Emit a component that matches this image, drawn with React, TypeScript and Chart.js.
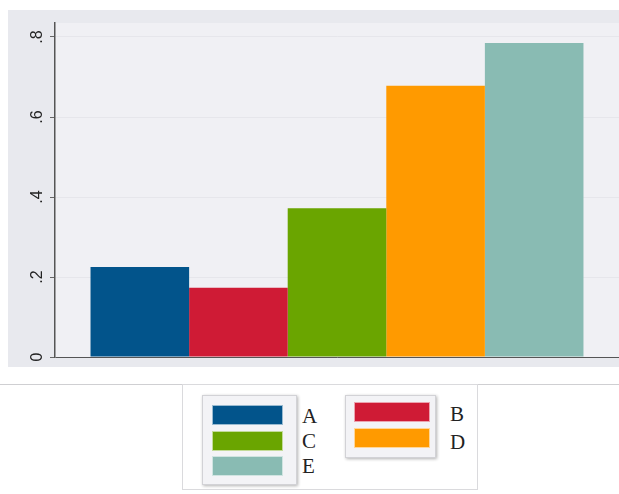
import React, { useEffect, useRef } from "react";
import { Chart, registerables } from "chart.js";

Chart.register(...registerables);

// ---- data ----
const categories = [""];
const seriesNames = ["A", "B", "C", "D", "E"];
const seriesValues = [0.225, 0.173, 0.372, 0.678, 0.785];
const yTickValues = [0, 0.2, 0.4, 0.6, 0.8];
const yTickLabels = ["0", ".2", ".4", ".6", ".8"];
const yMax = 0.835;

// ---- styles ----
const COLORS = ["#02548b", "#cf1b35", "#6aa500", "#ff9a00", "#89bbb3"];
const OUTER_BG = "#e8e9ee";
const PLOT_BG = "#f0f0f4";

const bgPlugin = {
  id: "bgPlugin",
  beforeDraw(chart: any) {
    const { ctx, chartArea, width, height } = chart;
    ctx.save();
    ctx.fillStyle = OUTER_BG;
    ctx.fillRect(0, 0, width, height);
    ctx.fillStyle = PLOT_BG;
    ctx.fillRect(chartArea.left, chartArea.top, chartArea.right - chartArea.left, chartArea.bottom - chartArea.top);
    ctx.restore();
  },
};

const yLabelPlugin = {
  id: "yLabelPlugin",
  afterDraw(chart: any) {
    const { ctx } = chart;
    const y = chart.scales.y;
    ctx.save();
    ctx.font = '16px "Liberation Sans", Arial, sans-serif';
    ctx.fillStyle = "#222";
    ctx.textAlign = "center";
    ctx.textBaseline = "middle";
    yTickValues.forEach((v, i) => {
      const py = y.getPixelForValue(v);
      ctx.save();
      ctx.translate(y.right - 17, py);
      ctx.rotate(-Math.PI / 2);
      ctx.fillText(yTickLabels[i], 0, 0);
      ctx.restore();
    });
    ctx.restore();
  },
};

function BarChart() {
  const ref = useRef<HTMLCanvasElement>(null);
  useEffect(() => {
    if (!ref.current) return;
    const chart = new Chart(ref.current, {
      type: "bar",
      data: {
        labels: categories,
        datasets: seriesNames.map((name, i) => ({
          label: name,
          data: [seriesValues[i]],
          backgroundColor: COLORS[i],
          borderWidth: 0,
          categoryPercentage: 0.874,
          barPercentage: 1,
        })),
      },
      options: {
        animation: false,
        responsive: false,
        layout: { padding: { top: 13, right: 0, bottom: 10, left: 0 } },
        plugins: { legend: { display: false }, tooltip: { enabled: false } },
        scales: {
          x: { type: "category", display: false },
          y: {
            type: "linear",
            min: 0,
            max: yMax,
            afterBuildTicks: (scale: any) => {
              scale.ticks = yTickValues.map((v) => ({ value: v }));
            },
            afterFit: (scale: any) => {
              scale.width = 47;
            },
            ticks: { display: false, includeBounds: false },
            grid: {
              color: (c: any) => (c.tick && c.tick.value === 0 ? "#555" : "#e6e6eb"),
              tickColor: "#666",
              tickLength: 5,
              drawTicks: true,
              lineWidth: 1,
            },
            border: { display: true, color: "#555", width: 1.5 },
          },
        },
      },
      plugins: [bgPlugin, yLabelPlugin],
    });
    return () => chart.destroy();
  }, []);
  return <canvas ref={ref} width={611} height={357} style={{ position: "absolute", left: 8, top: 10 }} />;
}

const swatchStyle = (color: string, w: number): React.CSSProperties => ({
  width: w,
  height: 20,
  background: color,
  border: "1px solid rgba(255,255,255,0.6)",
  boxSizing: "border-box",
});

function Legend() {
  const leftIdx = [0, 2, 4];
  const rightIdx = [1, 3];
  const keyBox: React.CSSProperties = {
    position: "absolute",
    background: "#f3f3f6",
    border: "1px solid #d2d2d6",
    boxShadow: "1px 1px 3px rgba(0,0,0,0.3)",
    boxSizing: "border-box",
    display: "flex",
    flexDirection: "column",
    justifyContent: "space-between",
  };
  const labelStyle: React.CSSProperties = {
    position: "absolute",
    font: '21px "Liberation Serif", "DejaVu Serif", serif',
    color: "#222",
    lineHeight: "22px",
  };
  return (
    <>
      <div style={{ position: "absolute", left: 0, top: 384, width: 619, height: 1, background: "#cfcfd2" }} />
      <div
        style={{
          position: "absolute",
          left: 182,
          top: 384,
          width: 296,
          height: 106,
          background: "#fff",
          border: "1px solid #dadadd",
          boxSizing: "border-box",
        }}
      />
      <div style={{ ...keyBox, left: 202, top: 395, width: 95, height: 90, padding: "9px 0 8px 9px" }}>
        {leftIdx.map((i) => (
          <div key={i} style={swatchStyle(COLORS[i], 71)} />
        ))}
      </div>
      <div style={{ ...keyBox, left: 345, top: 395, width: 91, height: 63, padding: "6px 0 9px 8px" }}>
        {rightIdx.map((i) => (
          <div key={i} style={swatchStyle(COLORS[i], 76)} />
        ))}
      </div>
      {leftIdx.map((i, k) => (
        <div key={"l" + i} style={{ ...labelStyle, left: 302, top: 405 + k * 25 }}>
          {seriesNames[i]}
        </div>
      ))}
      {rightIdx.map((i, k) => (
        <div key={"r" + i} style={{ ...labelStyle, left: 450, top: 403 + k * 28 }}>
          {seriesNames[i]}
        </div>
      ))}
    </>
  );
}

export default function App() {
  return (
    <div style={{ position: "absolute", left: 0, top: 0, width: 619, height: 494, background: "#fff", overflow: "hidden" }}>
      <BarChart />
      <Legend />
    </div>
  );
}
